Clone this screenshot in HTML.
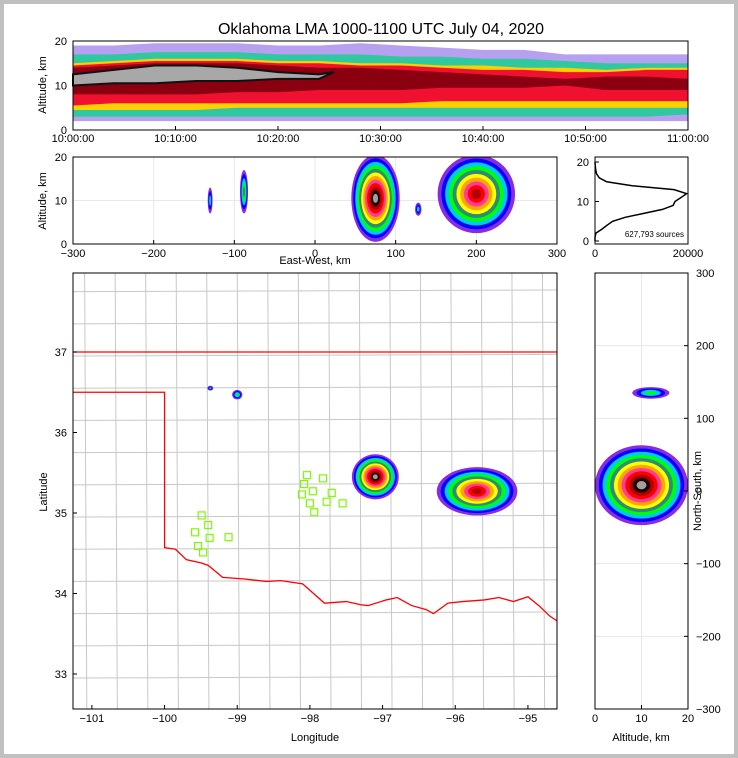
<!DOCTYPE html>
<html><head><meta charset="utf-8">
<style>
html,body{margin:0;padding:0;background:#c0c0c0;}
#wrap{position:absolute;left:4px;top:4px;width:730px;height:750px;background:#fff;}
svg{position:absolute;left:0;top:0;}
text{font-family:"Liberation Sans",sans-serif;fill:#000;}
</style></head>
<body>
<div id="wrap"></div>
<svg id="fig" width="738" height="758" viewBox="0 0 738 758"></svg>
<script>
// ---------- DATA ----------
const timeTicks = ["10:00:00","10:10:00","10:20:00","10:30:00","10:40:00","10:50:00","11:00:00"];
const thMinutes = [0,4,8,12,16,20,24,28,32,36,40,44,48,52,56,60];
const thOuterTop = [19,19,19.5,19.5,19.5,19,19,19.5,19,18.5,18,18,17,17,17,17];
const thOuterBot = [2,2,2,2,2,2,2,2,2,2,2,2,2,2,2,2];
const thGreenTop = [17,17,17.5,17.5,17.5,17,17,17,16.5,16.5,16,16,15.5,15,15,15];
const thGreenBot = [3,3,3,3,3,3,3,3,3,3,3,3,3,3,3,3.5];
const thYellowTop = [15,15.5,16,16,16,15.5,15.5,15,15,14.5,14.5,14,14,13.5,14,14];
const thYellowBot = [4.5,4.5,4.5,4.5,5,5,5,5,5,5,5,5,5,5,5,5];
const thRedTop = [14.5,15,15.5,15.5,15.5,15,15,14.5,14.5,14,13.5,13.5,13,13,13.5,13.5];
const thRedBot = [5.5,6,6,6,6,6,6,6,6,6.5,6.5,6.5,6.5,6.5,6.5,6.5];
const thDarkTop = [14,14.5,15,15,15,14.5,14,14,13.5,13,12.5,12,11.5,12,12,11.5];
const thDarkBot = [8,8,8,8,8.5,8.5,9,9,9,9.5,9.5,9.5,10,9,9,9];
const thGrayTop = [12.5,13.5,14.5,14.5,14,13,12.5,0,0,0,0,0,0,0,0,0];
const thGrayBot = [10,10.5,10.5,11,11,11.5,11.5,0,0,0,0,0,0,0,0,0];

const ewTicks = [-300,-200,-100,0,100,200,300];
const altTicks = [0,10,20];
// EW-altitude cells: [ew center, alt center, ew half-width, alt half-height, maxLevel]
const ewStormEW = [-130,-88,75,200,128];
const ewStormAlt = [10,12,10.5,11.5,8];
const ewStormRx = [3,5,30,48,4];
const ewStormRy = [3,5,10,9,1.5];
const ewStormLvl = [2,4,11,9,2];

const histAlt = [0,1,2,3,4,5,6,7,8,9,10,11,12,13,14,15,16,17,18,19,20];
const histCount = [0,0,200,1500,2600,3800,6500,10500,14500,16800,17200,18500,19700,17000,8000,2500,900,350,150,60,0];
const histTicksX = [0,20000];
const histTicksY = [0,10,20];

const lonTicks = [-101,-100,-99,-98,-97,-96,-95];
const latTicks = [33,34,35,36,37];
// map storms: lon, lat, rx(deg), ry(deg), level
const mapStormLon = [-97.1,-95.7,-99.37,-99.0];
const mapStormLat = [35.45,35.27,36.55,36.47];
const mapStormRx = [0.32,0.55,0.04,0.07];
const mapStormRy = [0.28,0.3,0.03,0.06];
const mapStormLvl = [11,9,2,3];
const redRiverLon = [-100,-99.85,-99.7,-99.5,-99.4,-99.2,-98.9,-98.6,-98.4,-98.1,-97.95,-97.8,-97.5,-97.3,-97.2,-96.95,-96.8,-96.6,-96.4,-96.3,-96.1,-95.9,-95.6,-95.4,-95.2,-95.0,-94.85,-94.7,-94.6];
const redRiverLat = [34.57,34.55,34.42,34.38,34.35,34.2,34.18,34.15,34.16,34.12,34.0,33.88,33.9,33.86,33.85,33.92,33.95,33.85,33.8,33.75,33.88,33.9,33.92,33.95,33.9,33.96,33.85,33.72,33.66];
const stationLon = [-98.04,-97.82,-98.08,-97.96,-98.11,-97.70,-97.77,-98.00,-97.55,-97.94,-99.49,-99.40,-99.58,-99.38,-99.12,-99.54,-99.47];
const stationLat = [35.47,35.43,35.36,35.27,35.23,35.25,35.14,35.12,35.12,35.01,34.97,34.85,34.76,34.69,34.70,34.59,34.51];

const nsTicks = [300,200,100,0,-100,-200,-300];
const nsAltTicks = [0,10,20];
const nsStormAlt = [10,12];
const nsStormNS = [8,135];
const nsStormRx = [10,4];
const nsStormRy = [55,8];
const nsStormLvl = [11,3];

// ---------- HELPERS ----------
const NS = "http://www.w3.org/2000/svg";
const svg = document.getElementById('fig');
function el(tag, attrs, parent){const e=document.createElementNS(NS,tag);for(const k in attrs)e.setAttribute(k,attrs[k]);(parent||svg).appendChild(e);return e;}
function txt(x,y,s,size,anchor,parent,rot){const t=el('text',{x:x,y:y,'font-size':size,'text-anchor':anchor||'middle'},parent);if(rot)t.setAttribute('transform','rotate('+rot+' '+x+' '+y+')');t.textContent=s;return t;}
function lin(d0,d1,p0,p1){return v=>p0+(v-d0)*(p1-p0)/(d1-d0);}
const palette = ['#8a2be2','#0000ff','#00c8ff','#00ff00','#2e8b7a','#ffff00','#ffa500','#ff3c96','#ff0000','#b00000','#200000','#a0a0a0'];

function blob(g,cx,cy,rx,ry,lvl){
  for(let i=0;i<=lvl;i++){
    const f=1-i/(lvl+1.3);
    const e=el('ellipse',{cx:cx,cy:cy,rx:Math.max(rx*f,1),ry:Math.max(ry*f,1),fill:palette[i]},g);
    
    
  }
}
function frame(x,y,w,h,name){const r=el('rect',{x:x,y:y,width:w,height:h,fill:'none',stroke:'#000','stroke-width':1});}

// ---------- TITLE ----------
const title=txt(381,34,"Oklahoma LMA 1000-1100 UTC July 04, 2020",16);


// ---------- TIME-HEIGHT ----------
(function(){
  const X=lin(0,60,73,688), Y=lin(0,20,130,41);
  const g=el('g',{});
  function band(tops,bots,color,name){
    let d='';
    thMinutes.forEach((m,i)=>{if(tops[i]>0)d+=(d?'L':'M')+X(m)+','+Y(tops[i]);});
    for(let i=thMinutes.length-1;i>=0;i--){if(tops[i]>0)d+='L'+X(thMinutes[i])+','+Y(bots[i]);}
    const p=el('path',{d:d+'Z',fill:color},g);
    
  }
  band(thOuterTop,thOuterBot,'#b8a0f0','time-height-sparse-band');
  band(thGreenTop,thGreenBot,'#30c8a0','time-height-green-band');
  band(thYellowTop,thYellowBot,'#ffd000','time-height-yellow-band');
  band(thRedTop,thRedBot,'#f01030','time-height-red-band');
  band(thDarkTop,thDarkBot,'#8a0010','time-height-dark-band');
  // gray core only where present
  let d='';const idx=thMinutes.map((m,i)=>i).filter(i=>thGrayTop[i]>0);
  idx.forEach((i,k)=>{d+=(k?'L':'M')+X(thMinutes[i])+','+Y(thGrayTop[i]);});
  d+='L'+(X(thMinutes[idx[idx.length-1]])+15)+','+Y(13);
  idx.slice().reverse().forEach(i=>{d+='L'+X(thMinutes[i])+','+Y(thGrayBot[i]);});
  const p=el('path',{d:d+'Z',fill:'#a8a8a8',stroke:'#111','stroke-width':2},g);
  
  frame(73,41,615,89,'time-height-axes-frame');
  altTicks.forEach(v=>{const t=txt(67,Y(v)+4,String(v),11,'end');});
  timeTicks.forEach((s,i)=>{const x=X(i*10);el('line',{x1:x,x2:x,y1:130,y2:126,stroke:'#000'});const t=txt(x,142,s,11);});
  const yl=txt(46,85,"Altitude, km",11,'middle',null,-90);
})();

// ---------- EW-ALT ----------
(function(){
  const X=lin(-300,300,73,557), Y=lin(0,20,244,157);
  const g=el('g',{});
  ewTicks.forEach(v=>el('line',{x1:X(v),x2:X(v),y1:157,y2:244,stroke:'#e8e8e8'},g));
  el('line',{x1:73,x2:557,y1:Y(10),y2:Y(10),stroke:'#e8e8e8'},g);
  const cg=el('svg',{x:73,y:157,width:484,height:87,overflow:'hidden'},g);
  const ig=el('g',{transform:'translate(-73,-157)'},cg);
  ewStormEW.forEach((e,i)=>blob(ig,X(e),Y(ewStormAlt[i]),ewStormRx[i]*484/600,ewStormRy[i]*87/20,ewStormLvl[i]));
  frame(73,157,484,87,'ew-axes-frame');
  altTicks.forEach(v=>{txt(67,Y(v)+4,String(v),11,'end');});
  ewTicks.forEach(v=>{el('line',{x1:X(v),x2:X(v),y1:244,y2:240,stroke:'#000'});txt(X(v),257,v<0?'\u2212'+(-v):String(v),11);});
  const xl=txt(315,264,"East-West, km",11);
  const yl=txt(46,201,"Altitude, km",11,'middle',null,-90);
})();

// ---------- HISTOGRAM ----------
(function(){
  const X=lin(0,20000,595,688), Y=lin(0,20,241,162);
  let d='';histAlt.forEach((a,i)=>{d+=(i?'L':'M')+X(histCount[i])+','+Y(a);});
  const p=el('path',{d:d,fill:'none',stroke:'#000','stroke-width':1.5});
  
  frame(595,157,93,87,'histogram-axes-frame');
  histTicksY.forEach(v=>{el('line',{x1:595,x2:599,y1:Y(v),y2:Y(v),stroke:'#000'});txt(589,Y(v)+4,String(v),11,'end');});
  histTicksX.forEach(v=>{txt(X(v),257,String(v),11);});
  const s=txt(684,237,"627,793 sources",8,'end');
})();

// ---------- MAP ----------
(function(){
  const X=lin(-101.26,-94.6,73,557), Y=lin(37,33,352,674);
  const g=el('g',{});
  const cg=el('svg',{x:73,y:273,width:484,height:436,overflow:'hidden'},g);
  const ig=el('g',{transform:'translate(-73,-273)'},cg);
  // county lines (approximate grid)
  for(let lon=-101.1;lon<-94.6;lon+=0.42){el('line',{x1:X(lon),x2:X(lon+0.03),y1:273,y2:709,stroke:'#c8c8c8'},ig);}
  for(let lat=37.75;lat>32.5;lat-=0.4){el('line',{x1:73,x2:557,y1:Y(lat),y2:Y(lat+0.02),stroke:'#c8c8c8'},ig);}
  // state border
  let d='M'+X(-101.3)+','+Y(37)+'L'+X(-94.6)+','+Y(37)+'M'+X(-101.3)+','+Y(36.5)+'L'+X(-100)+','+Y(36.5);
  redRiverLon.forEach((lo,i)=>{d+=(i?'L':'L')+X(lo)+','+Y(redRiverLat[i]);});
  const b=el('path',{d:d,fill:'none',stroke:'#ff0000','stroke-width':1.3},ig);
  
  mapStormLon.forEach((lo,i)=>blob(ig,X(lo),Y(mapStormLat[i]),mapStormRx[i]*73.3,mapStormRy[i]*80.5,mapStormLvl[i]));
  stationLon.forEach((lo,i)=>{
    const r=el('rect',{x:X(lo)-3.5,y:Y(stationLat[i])-3.5,width:7,height:7,fill:'none',stroke:'#7cfc00','stroke-width':1.2},ig);
    
  });
  frame(73,273,484,436,'map-axes-frame');
  lonTicks.forEach(v=>{el('line',{x1:X(v),x2:X(v),y1:709,y2:705,stroke:'#000'});txt(X(v),722,'\u2212'+(-v),11);});
  latTicks.forEach(v=>{el('line',{x1:73,x2:77,y1:Y(v),y2:Y(v),stroke:'#000'});txt(67,Y(v)+4,String(v),11,'end');});
  const xl=txt(315,741,"Longitude",11);
  const yl=txt(47,492,"Latitude",11,'middle',null,-90);
})();

// ---------- NS-ALT ----------
(function(){
  const X=lin(0,20,595,688), Y=lin(300,-300,273,709);
  const g=el('g',{});
  nsTicks.forEach(v=>el('line',{x1:595,x2:688,y1:Y(v),y2:Y(v),stroke:'#e8e8e8'},g));
  el('line',{x1:X(10),x2:X(10),y1:273,y2:709,stroke:'#e8e8e8'},g);
  const cg=el('svg',{x:595,y:273,width:93,height:436,overflow:'hidden'},g);
  const ig=el('g',{transform:'translate(-595,-273)'},cg);
  nsStormAlt.forEach((a,i)=>blob(ig,X(a),Y(nsStormNS[i]),nsStormRx[i]*93/20,nsStormRy[i]*436/600,nsStormLvl[i]));
  frame(595,273,93,436,'ns-axes-frame');
  nsTicks.forEach(v=>{el('line',{x1:684,x2:688,y1:Y(v),y2:Y(v),stroke:'#000'});txt(696,Y(v)+4,v<0?'\u2212'+(-v):String(v),11,'start');});
  nsAltTicks.forEach(v=>{el('line',{x1:X(v),x2:X(v),y1:709,y2:705,stroke:'#000'});txt(X(v),722,String(v),11);});
  const xl=txt(641,741,"Altitude, km",11);
  const yl=txt(701,491,"North-South, km",11,'middle',null,-90);
})();
</script>
</body></html>
